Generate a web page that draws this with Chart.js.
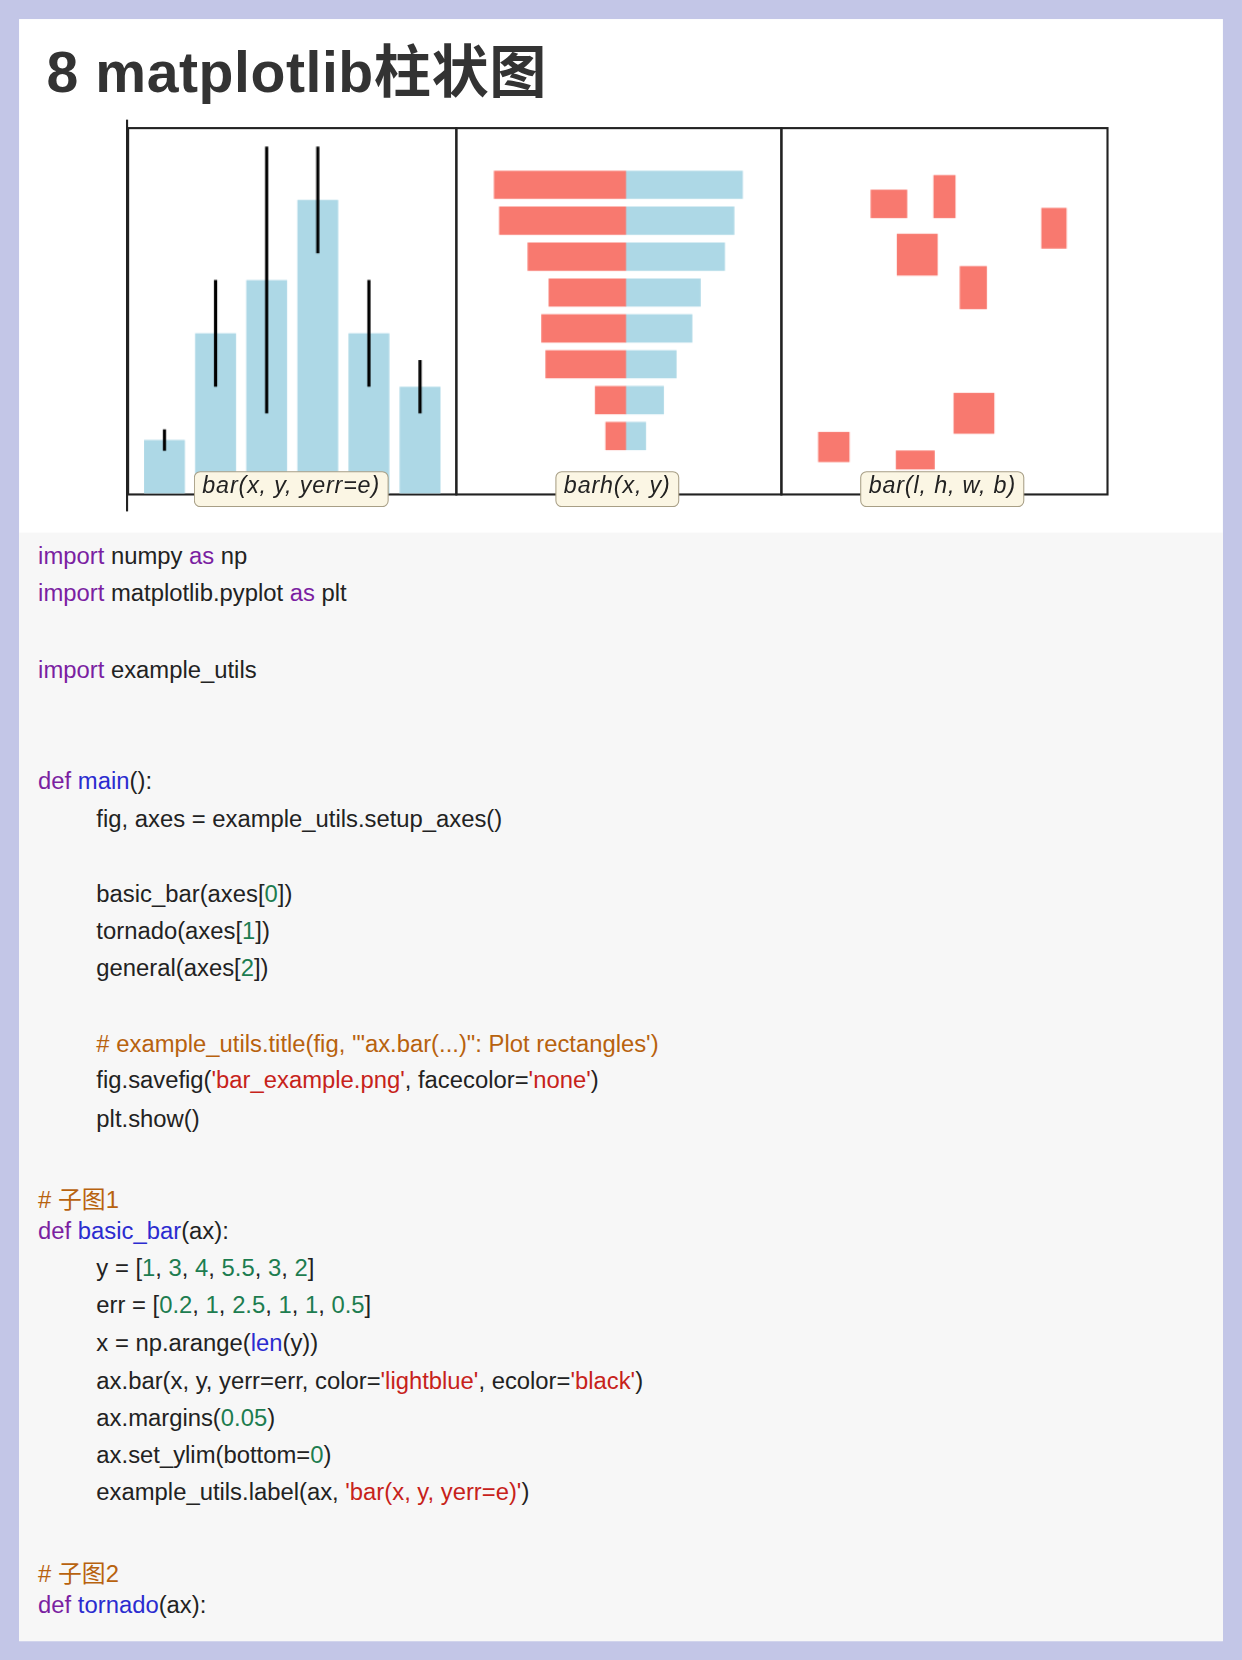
<!DOCTYPE html>
<html><head><meta charset="utf-8">
<script src="https://cdn.jsdelivr.net/npm/chart.js@4"></script>
<style>
html,body{margin:0;padding:0;background:#c3c6e7;overflow:hidden}
#page{position:absolute;left:0;top:0;width:1173px;height:1568px;transform:scale(1.0588);transform-origin:0 0;background:#c3c6e7}
#card{position:absolute;left:18px;top:18px;width:1137px;height:1532px;background:#fff}
#title{position:absolute;left:44px;top:24px;font:bold 54px "Liberation Sans","Noto Sans CJK SC",sans-serif;color:#333;letter-spacing:0.5px}
.panel{position:absolute;top:120px;height:348px;border:2px solid #222;box-sizing:border-box}
.panel canvas{position:absolute;left:0;top:0}
.lbl{position:absolute;top:445px;height:32px;line-height:32px;padding:0 7px;border:1.5px solid #a89f86;border-radius:6px;background:#fbf6e4;font:italic 22px "Liberation Sans",sans-serif;letter-spacing:0.8px;color:#222;transform:translateX(-50%);white-space:nowrap}
#code{position:absolute;left:18px;top:503px;width:1137px;height:1047px;background:#f7f7f7}
.ln{position:absolute;font:22.5px "Liberation Sans","Noto Sans CJK SC",sans-serif;color:#222;letter-spacing:0;white-space:pre}
.k{color:#7b1fa2}.f{color:#2b2bd0}.n{color:#1d7d50}.s{color:#c7221a}.c{color:#b8620e}
</style></head><body>
<div id="page">
<div id="card"></div>
<div id="title">8 matplotlib柱状图</div>
<div style="position:absolute;left:119px;top:113px;width:2px;height:370px;background:#222"></div>
<div class="panel" style="left:120px;width:312px"><canvas id="c1"></canvas></div>
<div class="panel" style="left:430px;width:309px"><canvas id="c2"></canvas></div>
<div class="panel" style="left:737px;width:310px"><canvas id="c3"></canvas></div>
<div class="lbl" style="left:275px">bar(x, y, yerr=e)</div>
<div class="lbl" style="left:583px">barh(x, y)</div>
<div class="lbl" style="left:890px">bar(l, h, w, b)</div>
<div id="code"></div>
</div>
<script>
// panel 1 data
const basicY = [1, 3, 4, 5.5, 3, 2];
const basicErr = [0.2, 1, 2.5, 1, 1, 0.5];
// panel 2 data (tornado)
const tornadoLeft = [12.5, 12, 9.3, 7.3, 8, 7.6, 2.9, 1.9];
const tornadoRight = [11.1, 10.3, 9.4, 7.1, 6.3, 4.8, 3.6, 1.9];
// panel 3 data (left, height, width, bottom)
const rectL = [27.2, 46.6, 79.9, 35.3, 54.7, 52.8, 11, 35];
const rectH = [7.8, 11.8, 11.2, 11.5, 11.8, 11.2, 8.3, 5.2];
const rectW = [11.3, 6.8, 7.8, 12.6, 8.4, 12.6, 9.7, 12];
const rectB = [75.6, 75.6, 67.2, 59.8, 50.6, 16.4, 8.6, 6.6];

const BLUE = '#add8e6', RED = '#f8796f';
const base = {
    responsive: false, animation: false,
    layout: { padding: 0 },
    plugins: { legend: { display: false }, tooltip: { enabled: false } }
};

function sizeCanvas(id, w, h) {
    const el = document.getElementById(id);
    el.width = w; el.height = h;
    el.style.width = w + 'px'; el.style.height = h + 'px';
    return el;
}

// error bars drawn from data through scales
const errPlugin = {
    id: 'err',
    afterDatasetsDraw(chart) {
        const { ctx, scales: { x, y } } = chart;
        ctx.save();
        ctx.strokeStyle = '#000'; ctx.lineWidth = 3;
        basicY.forEach((v, i) => {
            ctx.beginPath();
            ctx.moveTo(x.getPixelForValue(i), y.getPixelForValue(v - basicErr[i]));
            ctx.lineTo(x.getPixelForValue(i), y.getPixelForValue(v + basicErr[i]));
            ctx.stroke();
        });
        ctx.restore();
    }
};

new Chart(sizeCanvas('c1', 308, 344), {
    type: 'bar',
    data: { datasets: [{ data: basicY.map((v, i) => ({ x: i, y: v })), backgroundColor: BLUE, barPercentage: 0.8, categoryPercentage: 1 }] },
    options: { ...base, scales: {
        x: { type: 'linear', min: -0.69, max: 5.69, offset: false, display: false },
        y: { min: 0, max: 6.825, display: false } } },
    plugins: [errPlugin]
});

new Chart(sizeCanvas('c2', 305, 344), {
    type: 'bar',
    data: { datasets: [
        { data: tornadoLeft.map((v, i) => ({ y: i, x: -v })), backgroundColor: RED, grouped: false, barThickness: 26 },
        { data: tornadoRight.map((v, i) => ({ y: i, x: v })), backgroundColor: BLUE, grouped: false, barThickness: 26 }
    ] },
    options: { ...base, indexAxis: 'y', scales: {
        x: { type: 'linear', min: -16, max: 14.7, display: false },
        y: { type: 'linear', min: -1.55, max: 8.6, reverse: true, offset: false, display: false } } }
});

const rectPlugin = {
    id: 'rects',
    afterDatasetsDraw(chart) {
        const { ctx, scales: { x, y } } = chart;
        ctx.save();
        ctx.fillStyle = RED;
        rectL.forEach((l, i) => {
            const x0 = x.getPixelForValue(l), x1 = x.getPixelForValue(l + rectW[i]);
            const y0 = y.getPixelForValue(rectB[i] + rectH[i]), y1 = y.getPixelForValue(rectB[i]);
            ctx.fillRect(x0, y0, x1 - x0, y1 - y0);
        });
        ctx.restore();
    }
};
new Chart(sizeCanvas('c3', 306, 344), {
    type: 'scatter',
    data: { datasets: [{ data: [], pointRadius: 0 }] },
    options: { ...base, scales: {
        x: { type: 'linear', min: 0, max: 100, display: false },
        y: { type: 'linear', min: 0, max: 100, display: false } } },
    plugins: [rectPlugin]
});

// code listing
const codeLines = [
    [527, 36, '<span class="k">import</span> numpy <span class="k">as</span> np'],
    [562, 36, '<span class="k">import</span> matplotlib.pyplot <span class="k">as</span> plt'],
    [634, 36, '<span class="k">import</span> example_utils'],
    [739, 36, '<span class="k">def</span> <span class="f">main</span>():'],
    [775, 91, 'fig, axes = example_utils.setup_axes()'],
    [846, 91, 'basic_bar(axes[<span class="n">0</span>])'],
    [881, 91, 'tornado(axes[<span class="n">1</span>])'],
    [916, 91, 'general(axes[<span class="n">2</span>])'],
    [988, 91, '<span class="c"># example_utils.title(fig, \'"ax.bar(...)": Plot rectangles\')</span>'],
    [1022, 91, 'fig.savefig(<span class="s">\'bar_example.png\'</span>, facecolor=<span class="s">\'none\'</span>)'],
    [1058, 91, 'plt.show()'],
    [1129, 36, '<span class="c"># 子图1</span>'],
    [1164, 36, '<span class="k">def</span> <span class="f">basic_bar</span>(ax):'],
    [1199, 91, 'y = [<span class="n">1</span>, <span class="n">3</span>, <span class="n">4</span>, <span class="n">5.5</span>, <span class="n">3</span>, <span class="n">2</span>]'],
    [1234, 91, 'err = [<span class="n">0.2</span>, <span class="n">1</span>, <span class="n">2.5</span>, <span class="n">1</span>, <span class="n">1</span>, <span class="n">0.5</span>]'],
    [1270, 91, 'x = np.arange(<span class="f">len</span>(y))'],
    [1306, 91, 'ax.bar(x, y, yerr=err, color=<span class="s">\'lightblue\'</span>, ecolor=<span class="s">\'black\'</span>)'],
    [1341, 91, 'ax.margins(<span class="n">0.05</span>)'],
    [1376, 91, 'ax.set_ylim(bottom=<span class="n">0</span>)'],
    [1411, 91, 'example_utils.label(ax, <span class="s">\'bar(x, y, yerr=e)\'</span>)'],
    [1482, 36, '<span class="c"># 子图2</span>'],
    [1517, 36, '<span class="k">def</span> <span class="f">tornado</span>(ax):']
];
const page = document.getElementById('page');
codeLines.forEach(([y, x, html]) => {
    const d = document.createElement('div');
    d.className = 'ln';
    d.style.left = x + 'px';
    d.style.top = (y - 14) + 'px';
    d.innerHTML = html;
    page.appendChild(d);
});
</script>
</body></html>
